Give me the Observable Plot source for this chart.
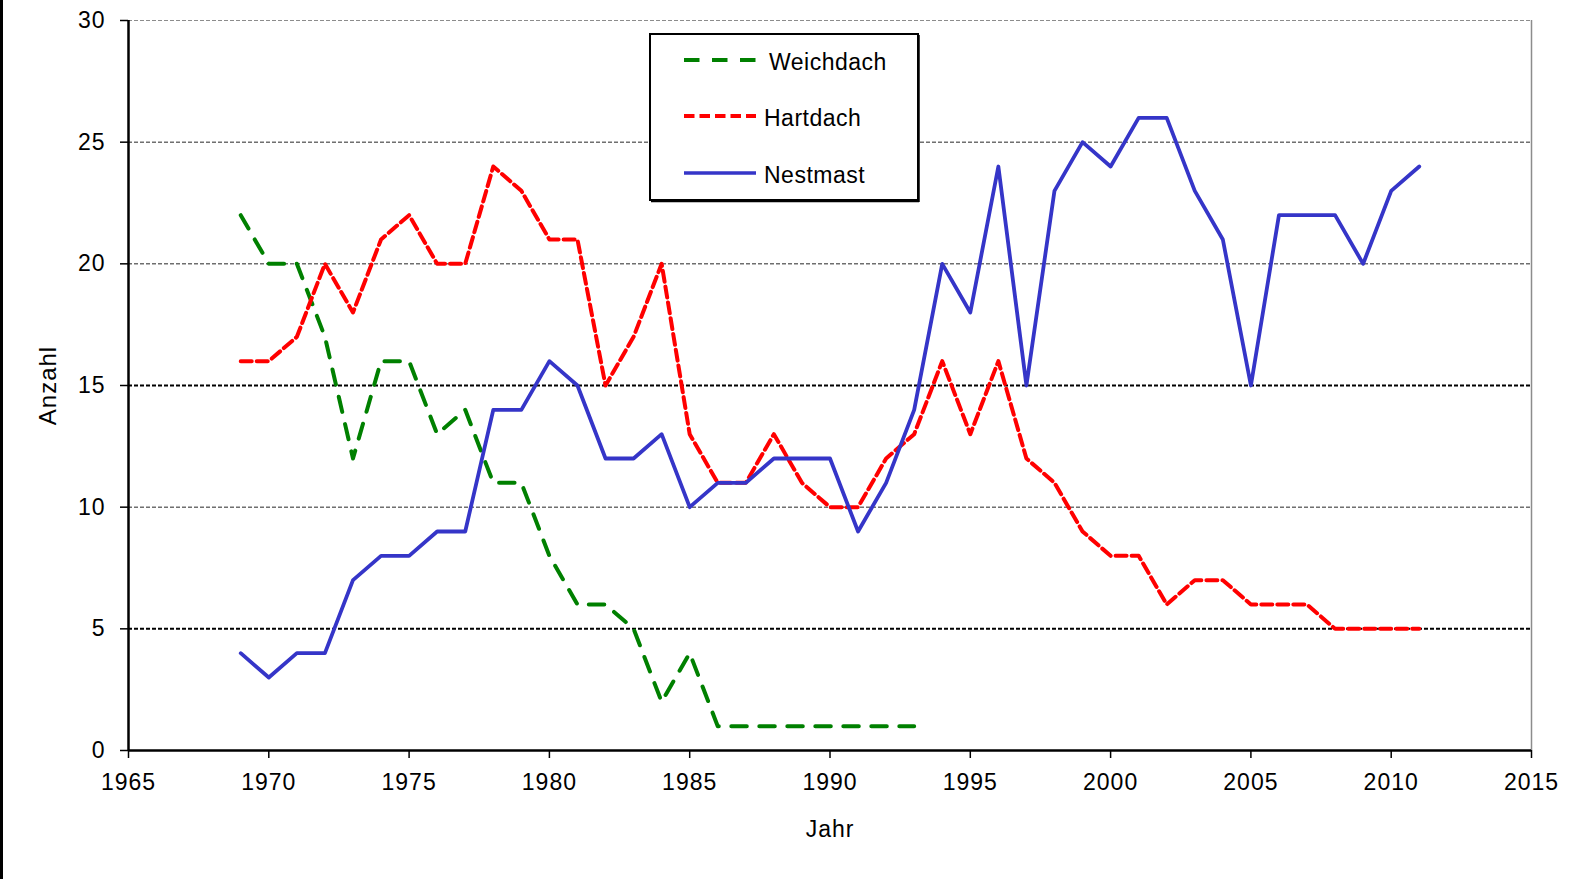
<!DOCTYPE html>
<html><head><meta charset="utf-8">
<script src="https://cdn.jsdelivr.net/npm/d3@7"></script>
<script src="https://cdn.jsdelivr.net/npm/@observablehq/plot@0.6"></script>
<style>
html,body{margin:0;padding:0;background:#fff;}
#wrap{position:relative;width:1581px;height:879px;overflow:hidden;}
#edge{position:absolute;left:0;top:0;width:3px;height:879px;background:#000;}
#legend{position:absolute;left:649px;top:33px;}
#legend text{font-family:"Liberation Sans",Arial,sans-serif;font-size:23px;letter-spacing:0.5px;}
</style></head><body><div id="wrap"><div id="edge"></div></div>
<script>
// ---- data ----
const seriesNames = ["Weichdach", "Hartdach", "Nestmast"];
const weichdachStart = 1969;
const weichdach = [22, 20, 20, 17, 12, 16, 16, 13, 14, 11, 11, 8, 6, 6, 5, 2, 4, 1, 1, 1, 1, 1, 1, 1, 1];
const hartdachStart = 1969;
const hartdach = [16, 16, 17, 20, 18, 21, 22, 20, 20, 24,
                  23, 21, 21, 15, 17, 20, 13, 11, 11, 13,
                  11, 10, 10, 12, 13, 16, 13, 16, 12, 11,
                  9, 8, 8, 6, 7, 7, 6, 6, 6, 5,
                  5, 5, 5];
const nestmastStart = 1969;
const nestmast = [4, 3, 4, 4, 7, 8, 8, 9, 9, 14,
                  14, 16, 15, 12, 12, 13, 10, 11, 11, 12,
                  12, 12, 9, 11, 14, 20, 18, 24, 15, 23,
                  25, 24, 26, 26, 23, 21, 15, 22, 22, 22,
                  20, 23, 24];
const xTicks = [1965, 1970, 1975, 1980, 1985, 1990, 1995, 2000, 2005, 2010, 2015];
const yTicks = [0, 5, 10, 15, 20, 25, 30];
const gridValues = [5, 10, 15, 20, 25];
const xLabel = "Jahr";
const yLabel = "Anzahl";

const toRows = (start, vals) => vals.map((v, i) => ({year: start + i, value: v}));
const wRows = toRows(weichdachStart, weichdach);
const hRows = toRows(hartdachStart, hartdach);
const nRows = toRows(nestmastStart, nestmast);

const colors = {Weichdach: "#008000", Hartdach: "#ff0000", Nestmast: "#3535c8"};
const dashes = {Weichdach: "15.5,12.5", Hartdach: "11,5", Nestmast: null};

const chart = Plot.plot({
  width: 1581, height: 879,
  marginTop: 20, marginBottom: 129, marginLeft: 128, marginRight: 50,
  style: {fontFamily: "Liberation Sans, Arial, sans-serif", fontSize: "23px", letterSpacing: "1px", color: "#000", background: "transparent"},
  x: {domain: [1965, 2015]},
  y: {domain: [0, 30]},
  marks: [
    Plot.ruleY([30], {stroke: "#8c8c8c", strokeDasharray: "4,2", strokeWidth: 1}),
    Plot.ruleY(gridValues, {stroke: "#000", strokeDasharray: "4,2", strokeWidth: d => (d === 5 || d === 15) ? 2 : 1, strokeOpacity: d => (d === 5 || d === 15) ? 1 : 0.85}),
    Plot.ruleX([2015], {stroke: "#8c8c8c", strokeWidth: 1.5}),
    Plot.line(wRows, {x: "year", y: "value", stroke: colors.Weichdach, strokeWidth: 4, strokeDasharray: dashes.Weichdach, strokeLinejoin: "round"}),
    Plot.line(hRows, {x: "year", y: "value", stroke: colors.Hartdach, strokeWidth: 4, strokeDasharray: dashes.Hartdach, strokeLinejoin: "round"}),
    Plot.line(nRows, {x: "year", y: "value", stroke: colors.Nestmast, strokeWidth: 3.8, strokeLinejoin: "round"}),
    Plot.axisX({ticks: xTicks, tickFormat: d => String(d), tickSize: 8, tickPadding: 15, strokeWidth: 1.5, label: null}),
    Plot.axisY({ticks: yTicks, tickFormat: d => String(d), tickSize: 8, tickPadding: 15, strokeWidth: 1.5, label: null}),
    Plot.ruleX([1965], {stroke: "#000", strokeWidth: 2.5}),
    Plot.ruleY([0], {stroke: "#000", strokeWidth: 2.5}),
    Plot.text([xLabel], {frameAnchor: "bottom", dy: 86, fontSize: 23}),
    Plot.text([yLabel], {frameAnchor: "left", dx: -80, rotate: -90, textAnchor: "middle", fontSize: 24})
  ]
});
document.getElementById("wrap").appendChild(chart);

// ---- legend ----
const ns = "http://www.w3.org/2000/svg";
const lg = document.createElementNS(ns, "svg");
lg.setAttribute("id", "legend");
lg.setAttribute("width", 272);
lg.setAttribute("height", 170);
const mk = (tag, attrs, txt) => {
  const el = document.createElementNS(ns, tag);
  for (const k in attrs) el.setAttribute(k, attrs[k]);
  if (txt) el.textContent = txt;
  lg.appendChild(el);
  return el;
};
mk("rect", {x: 1, y: 1, width: 268, height: 166, fill: "#fff", stroke: "#000", "stroke-width": 2});
mk("line", {x1: 270, y1: 2, x2: 270, y2: 169, stroke: "#000", "stroke-width": 1.5});
mk("line", {x1: 2, y1: 168.5, x2: 270, y2: 168.5, stroke: "#000", "stroke-width": 1.5});
const rowsY = [27, 83, 140];
const textX = [120, 115, 115];
seriesNames.forEach((name, i) => {
  const attrs = {x1: 35, x2: 107, y1: rowsY[i], y2: rowsY[i], stroke: colors[name], "stroke-width": name === "Nestmast" ? 3.5 : 4};
  if (dashes[name]) attrs["stroke-dasharray"] = name === "Hartdach" ? "10.5,5" : dashes[name];
  mk("line", attrs);
  mk("text", {x: textX[i], y: rowsY[i] + 10, fill: "#000"}, name);
});
document.getElementById("wrap").appendChild(lg);
</script></body></html>
